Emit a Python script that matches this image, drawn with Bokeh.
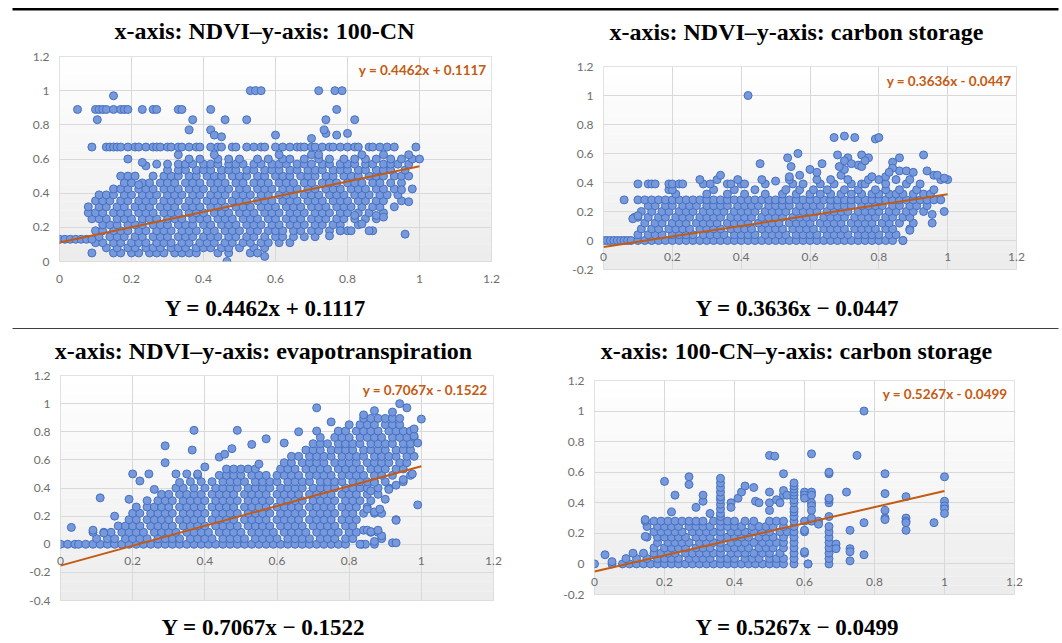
from bokeh.plotting import figure
from bokeh.layouts import column, row
from bokeh.models import Label, FixedTicker, BoxAnnotation, Range1d
from bokeh.embed import file_html
from bokeh.resources import INLINE

# ---------------- texts ----------------
TITLES = [
    "x-axis: NDVI\u2013y-axis: 100-CN",
    "x-axis: NDVI\u2013y-axis: carbon storage",
    "x-axis: NDVI\u2013y-axis: evapotranspiration",
    "x-axis: 100-CN\u2013y-axis: carbon storage",
]
EQUATIONS = [
    "Y = 0.4462x + 0.1117",
    "Y = 0.3636x \u2212 0.0447",
    "Y = 0.7067x \u2212 0.1522",
    "Y = 0.5267x \u2212 0.0499",
]
TREND_LABELS = [
    "y = 0.4462x + 0.1117",
    "y = 0.3636x - 0.0447",
    "y = 0.7067x - 0.1522",
    "y = 0.5267x - 0.0499",
]
SLOPES = [0.4462, 0.3636, 0.7067, 0.5267]
INTERCEPTS = [0.1117, -0.0447, -0.1522, -0.0499]
TREND_X = [0.0, 1.0]

X_TICKS = [0, 0.2, 0.4, 0.6, 0.8, 1, 1.2]
X_TICK_LABELS = ["0", "0.2", "0.4", "0.6", "0.8", "1", "1.2"]
Y_TICKS_A = [0, 0.2, 0.4, 0.6, 0.8, 1, 1.2]
Y_TICK_LABELS_A = ["0", "0.2", "0.4", "0.6", "0.8", "1", "1.2"]
Y_TICKS_B = [-0.2, 0, 0.2, 0.4, 0.6, 0.8, 1, 1.2]
Y_TICK_LABELS_B = ["-0.2", "0", "0.2", "0.4", "0.6", "0.8", "1", "1.2"]
Y_TICKS_C = [-0.4, -0.2, 0, 0.2, 0.4, 0.6, 0.8, 1, 1.2]
Y_TICK_LABELS_C = ["-0.4", "-0.2", "0", "0.2", "0.4", "0.6", "0.8", "1", "1.2"]

# ---------------- panel 1: NDVI vs 100-CN ----------------
P1_ROW_Y = [0.05, 0.08, 0.11, 0.13, 0.145, 0.18, 0.215, 0.25, 0.285, 0.32, 0.355, 0.39,
            0.425, 0.46, 0.5, 0.535, 0.57, 0.6, 0.625, 0.67]
P1_ROW_X = [
    [0.09, 0.15, 0.17, 0.2, 0.22, 0.25, 0.27, 0.29, 0.32, 0.34, 0.36, 0.38, 0.44, 0.47, 0.53],
    [0.13, 0.16, 0.19, 0.21, 0.24, 0.26, 0.28, 0.31, 0.33, 0.35, 0.38, 0.4, 0.42, 0.45, 0.47, 0.5, 0.54, 0.57],
    [0.1, 0.12, 0.15, 0.17, 0.2, 0.22, 0.24, 0.27, 0.29, 0.31, 0.34, 0.36, 0.39, 0.41, 0.43, 0.46, 0.48,
     0.51, 0.53, 0.56, 0.58, 0.61, 0.64],
    [0.0, 0.015, 0.03, 0.045, 0.06, 0.075, 0.09],
    [0.11, 0.14, 0.16, 0.18, 0.21, 0.23, 0.26, 0.28, 0.3, 0.33, 0.35, 0.37, 0.4, 0.42, 0.44, 0.47, 0.49,
     0.52, 0.54, 0.57, 0.6, 0.62, 0.65, 0.68, 0.71],
    [0.1, 0.12, 0.15, 0.17, 0.19, 0.22, 0.24, 0.27, 0.29, 0.31, 0.34, 0.36, 0.38, 0.41, 0.43, 0.46, 0.48,
     0.5, 0.53, 0.55, 0.58, 0.6, 0.62, 0.65, 0.67, 0.7, 0.72, 0.75, 0.78, 0.8, 0.87],
    [0.12, 0.14, 0.16, 0.19, 0.21, 0.23, 0.26, 0.28, 0.3, 0.33, 0.35, 0.37, 0.4, 0.42, 0.45, 0.47, 0.49,
     0.52, 0.54, 0.56, 0.59, 0.61, 0.64, 0.66, 0.68, 0.71, 0.73, 0.76, 0.78, 0.83],
    [0.09, 0.11, 0.13, 0.16, 0.18, 0.2, 0.23, 0.25, 0.27, 0.3, 0.32, 0.34, 0.37, 0.39, 0.41, 0.44, 0.46,
     0.48, 0.51, 0.53, 0.55, 0.58, 0.6, 0.63, 0.65, 0.67, 0.7, 0.72, 0.74, 0.77, 0.79, 0.82, 0.85, 0.88],
    [0.08, 0.1, 0.12, 0.15, 0.17, 0.19, 0.22, 0.24, 0.26, 0.29, 0.31, 0.33, 0.36, 0.38, 0.4, 0.43, 0.45,
     0.47, 0.5, 0.52, 0.54, 0.57, 0.59, 0.61, 0.64, 0.66, 0.68, 0.71, 0.73, 0.75, 0.78, 0.8, 0.83, 0.86, 0.9],
    [0.08, 0.11, 0.13, 0.16, 0.18, 0.21, 0.23, 0.25, 0.28, 0.3, 0.32, 0.35, 0.37, 0.39, 0.42, 0.44, 0.46,
     0.49, 0.51, 0.53, 0.56, 0.58, 0.6, 0.63, 0.65, 0.67, 0.7, 0.72, 0.74, 0.77, 0.79, 0.81, 0.84, 0.87,
     0.89, 0.93],
    [0.1, 0.12, 0.14, 0.17, 0.19, 0.22, 0.24, 0.26, 0.29, 0.31, 0.33, 0.36, 0.38, 0.41, 0.43, 0.45, 0.48,
     0.5, 0.52, 0.55, 0.57, 0.59, 0.62, 0.64, 0.66, 0.69, 0.71, 0.73, 0.76, 0.78, 0.8, 0.83, 0.85, 0.88,
     0.9, 0.95],
    [0.11, 0.13, 0.15, 0.18, 0.2, 0.23, 0.25, 0.27, 0.3, 0.32, 0.34, 0.37, 0.39, 0.42, 0.44, 0.46, 0.49,
     0.51, 0.53, 0.56, 0.58, 0.61, 0.63, 0.65, 0.68, 0.7, 0.72, 0.75, 0.77, 0.79, 0.82, 0.84, 0.86, 0.89,
     0.91, 0.94],
    [0.15, 0.17, 0.19, 0.22, 0.24, 0.26, 0.29, 0.31, 0.33, 0.36, 0.38, 0.4, 0.43, 0.45, 0.47, 0.5, 0.52,
     0.55, 0.57, 0.59, 0.62, 0.64, 0.66, 0.69, 0.71, 0.74, 0.76, 0.78, 0.81, 0.83, 0.85, 0.88, 0.9, 0.93, 0.98],
    [0.18, 0.2, 0.23, 0.25, 0.28, 0.3, 0.32, 0.35, 0.37, 0.39, 0.42, 0.44, 0.46, 0.49, 0.51, 0.54, 0.56,
     0.58, 0.61, 0.63, 0.65, 0.68, 0.7, 0.73, 0.75, 0.77, 0.8, 0.82, 0.84, 0.87, 0.89, 0.92, 0.95],
    [0.17, 0.19, 0.21, 0.26, 0.29, 0.31, 0.33, 0.36, 0.38, 0.41, 0.43, 0.45, 0.48, 0.5, 0.52, 0.55, 0.57,
     0.6, 0.62, 0.64, 0.67, 0.69, 0.71, 0.74, 0.76, 0.79, 0.81, 0.83, 0.86, 0.88, 0.9, 0.93, 0.95, 0.97],
    [0.3, 0.33, 0.35, 0.38, 0.4, 0.42, 0.45, 0.47, 0.49, 0.52, 0.54, 0.57, 0.59, 0.61, 0.64, 0.66, 0.69,
     0.71, 0.73, 0.76, 0.78, 0.8, 0.83, 0.85, 0.88, 0.9, 0.92, 0.96],
    [0.27, 0.3, 0.33, 0.35, 0.37, 0.4, 0.42, 0.44, 0.47, 0.49, 0.51, 0.54, 0.56, 0.59, 0.61, 0.63, 0.66,
     0.68, 0.7, 0.73, 0.75, 0.78, 0.8, 0.82, 0.85, 0.87, 0.9, 0.92, 0.94, 0.97],
    [0.19, 0.36, 0.39, 0.44, 0.47, 0.5, 0.55, 0.58, 0.62, 0.64, 0.68, 0.72, 0.75, 0.79, 0.82, 0.85, 0.88,
     0.92, 0.95, 0.98, 1.0],
    [0.33, 0.43, 0.61, 0.7, 0.72, 0.84, 0.9, 0.97],
    [0.09, 0.13, 0.14, 0.15, 0.16, 0.17, 0.19, 0.21, 0.22, 0.24, 0.26, 0.27, 0.28, 0.3, 0.31, 0.33, 0.34,
     0.36, 0.38, 0.39, 0.42, 0.44, 0.45, 0.48, 0.49, 0.52, 0.54, 0.56, 0.57, 0.6, 0.62, 0.64, 0.66, 0.67,
     0.68, 0.7, 0.71, 0.73, 0.75, 0.76, 0.78, 0.8, 0.82, 0.83, 0.86, 0.87, 0.89, 0.91, 0.93, 0.99],
]
P1_EXTRA = [
    (0.05, 0.89), (0.10, 0.89), (0.11, 0.89), (0.12, 0.89), (0.13, 0.89), (0.15, 0.89), (0.17, 0.89),
    (0.18, 0.89), (0.19, 0.89), (0.23, 0.89), (0.26, 0.89), (0.27, 0.89), (0.33, 0.89), (0.34, 0.89),
    (0.42, 0.89), (0.77, 0.89), (0.15, 0.97), (0.105, 0.83), (0.53, 1.0), (0.545, 1.0), (0.56, 1.0),
    (0.72, 1.0), (0.765, 1.0), (0.785, 1.0), (0.37, 0.83), (0.46, 0.83), (0.52, 0.83), (0.74, 0.83),
    (0.82, 0.83), (0.36, 0.77), (0.42, 0.77), (0.43, 0.74), (0.45, 0.73), (0.74, 0.75), (0.735, 0.77),
    (0.8, 0.75), (0.7, 0.72), (0.6, 0.74), (0.77, 0.74), (0.96, 0.16), (0.465, 0.0), (0.57, 0.03),
    (0.86, 0.18), (0.81, 0.18), (0.84, 0.22), (0.82, 0.27), (0.88, 0.27), (0.9, 0.26), (0.75, 0.15),
    (0.78, 0.18), (0.97, 0.35), (0.95, 0.42), (0.24, 0.56), (0.23, 0.58), (0.22, 0.45), (0.55, 0.05),
]

# ---------------- panel 2: NDVI vs carbon storage ----------------
P2_ROW_Y = [0.0, 0.04, 0.08, 0.12, 0.16, 0.2, 0.24, 0.28, 0.32, 0.35, 0.39, 0.42]
P2_ROW_X = [
    [0.0, 0.01, 0.02, 0.03, 0.04, 0.05, 0.06, 0.07, 0.08, 0.1, 0.12, 0.14, 0.16, 0.18, 0.2, 0.22, 0.24,
     0.26, 0.28, 0.3, 0.32, 0.34, 0.36, 0.38, 0.4, 0.42, 0.44, 0.46, 0.48, 0.5, 0.52, 0.54, 0.56, 0.58,
     0.6, 0.62, 0.64, 0.66, 0.68, 0.7, 0.72, 0.74, 0.76, 0.78, 0.8, 0.82, 0.84, 0.87],
    [0.1, 0.13, 0.15, 0.17, 0.2, 0.22, 0.24, 0.26, 0.29, 0.31, 0.33, 0.35, 0.38, 0.4, 0.42, 0.44, 0.47,
     0.49, 0.51, 0.53, 0.56, 0.58, 0.6, 0.62, 0.65, 0.67, 0.69, 0.71, 0.74, 0.76, 0.78, 0.8, 0.83, 0.85],
    [0.11, 0.14, 0.16, 0.19, 0.21, 0.23, 0.25, 0.28, 0.3, 0.32, 0.34, 0.37, 0.39, 0.41, 0.43, 0.46, 0.48,
     0.5, 0.52, 0.55, 0.57, 0.59, 0.61, 0.64, 0.66, 0.68, 0.7, 0.73, 0.75, 0.77, 0.79, 0.82, 0.84, 0.89],
    [0.12, 0.15, 0.17, 0.2, 0.22, 0.24, 0.27, 0.29, 0.31, 0.33, 0.36, 0.38, 0.4, 0.42, 0.45, 0.47, 0.49,
     0.51, 0.54, 0.56, 0.58, 0.6, 0.63, 0.65, 0.67, 0.69, 0.72, 0.74, 0.76, 0.78, 0.81, 0.83, 0.86, 0.9],
    [0.09, 0.1, 0.13, 0.16, 0.18, 0.21, 0.23, 0.25, 0.28, 0.3, 0.32, 0.34, 0.37, 0.39, 0.41, 0.43, 0.46,
     0.48, 0.5, 0.52, 0.55, 0.57, 0.59, 0.61, 0.64, 0.66, 0.68, 0.7, 0.73, 0.75, 0.77, 0.79, 0.82, 0.84,
     0.87, 0.89],
    [0.11, 0.14, 0.17, 0.19, 0.22, 0.24, 0.26, 0.29, 0.31, 0.33, 0.35, 0.38, 0.4, 0.42, 0.44, 0.47, 0.49,
     0.51, 0.53, 0.56, 0.58, 0.6, 0.62, 0.65, 0.67, 0.69, 0.71, 0.74, 0.76, 0.78, 0.8, 0.83, 0.85, 0.88,
     0.9, 0.93],
    [0.13, 0.15, 0.18, 0.2, 0.23, 0.25, 0.27, 0.3, 0.32, 0.34, 0.36, 0.39, 0.41, 0.43, 0.45, 0.48, 0.5,
     0.52, 0.54, 0.57, 0.59, 0.61, 0.63, 0.66, 0.68, 0.7, 0.72, 0.75, 0.77, 0.79, 0.81, 0.84, 0.86, 0.89,
     0.91, 0.94],
    [0.1, 0.12, 0.14, 0.16, 0.18, 0.2, 0.22, 0.24, 0.26, 0.28, 0.3, 0.32, 0.34, 0.36, 0.38, 0.4, 0.42,
     0.44, 0.46, 0.48, 0.5, 0.52, 0.54, 0.56, 0.58, 0.6, 0.62, 0.64, 0.66, 0.68, 0.7, 0.72, 0.74, 0.76,
     0.78, 0.8, 0.82, 0.84, 0.86, 0.88, 0.9, 0.92, 0.94, 0.96, 0.98],
    [0.21, 0.3, 0.36, 0.41, 0.47, 0.52, 0.56, 0.6, 0.63, 0.66, 0.69, 0.72, 0.75, 0.78, 0.8, 0.83, 0.85,
     0.87, 0.9, 0.93, 0.95],
    [0.19, 0.2, 0.32, 0.38, 0.44, 0.53, 0.57, 0.61, 0.65, 0.7, 0.74, 0.79, 0.82, 0.86, 0.91, 0.96],
    [0.1, 0.13, 0.14, 0.15, 0.19, 0.2, 0.22, 0.23, 0.29, 0.31, 0.36, 0.37, 0.4, 0.41, 0.47, 0.55, 0.58,
     0.63, 0.67, 0.72, 0.75, 0.76, 0.82, 0.88, 0.92],
    [0.28, 0.33, 0.39, 0.46, 0.54, 0.62, 0.66, 0.71, 0.77, 0.8, 0.85, 0.89, 0.98, 1.0],
]
P2_EXTRA = [
    (0.42, 1.0), (0.67, 0.71), (0.70, 0.72), (0.73, 0.71), (0.79, 0.70), (0.80, 0.71), (0.565, 0.6),
    (0.68, 0.59), (0.75, 0.59), (0.93, 0.59), (0.535, 0.57), (0.71, 0.57), (0.77, 0.57), (0.86, 0.57),
    (0.455, 0.53), (0.635, 0.53), (0.545, 0.51), (0.74, 0.52), (0.84, 0.54), (0.6, 0.49), (0.62, 0.47),
    (0.72, 0.53), (0.06, 0.28), (0.955, 0.18), (0.99, 0.2), (0.89, 0.07), (0.87, 0.0), (0.34, 0.45),
    (0.5, 0.41), (0.54, 0.44), (0.57, 0.45), (0.69, 0.45), (0.7, 0.49), (0.86, 0.48), (0.88, 0.48),
    (0.9, 0.47), (0.94, 0.48), (0.96, 0.45), (0.97, 0.45), (0.99, 0.43), (0.78, 0.44), (0.82, 0.44),
    (0.84, 0.5), (0.83, 0.47), (0.685, 0.51), (0.7, 0.55), (0.75, 0.51), (0.76, 0.55), (0.955, 0.12),
    (0.085, 0.15), (0.1, 0.17),
]

# ---------------- panel 3: NDVI vs evapotranspiration ----------------
P3_ROW_Y = [0.0, 0.04, 0.085, 0.13, 0.175, 0.22, 0.265, 0.31, 0.355, 0.4, 0.445, 0.49, 0.535, 0.58,
            0.625, 0.67, 0.715, 0.76, 0.805, 0.85, 0.895]
P3_ROW_X = [
    [0.0, 0.02, 0.04, 0.05, 0.07, 0.09, 0.11, 0.13, 0.15, 0.17, 0.19, 0.21, 0.23, 0.25, 0.27, 0.29, 0.31,
     0.33, 0.35, 0.37, 0.39, 0.41, 0.43, 0.45, 0.47, 0.49, 0.51, 0.53, 0.55, 0.57, 0.59, 0.61, 0.63, 0.65,
     0.67, 0.69, 0.71, 0.73, 0.75, 0.77, 0.79, 0.835, 0.845, 0.87],
    [0.1, 0.13, 0.15, 0.18, 0.2, 0.22, 0.24, 0.27, 0.29, 0.31, 0.33, 0.36, 0.38, 0.4, 0.42, 0.45, 0.47,
     0.49, 0.51, 0.54, 0.56, 0.58, 0.6, 0.63, 0.65, 0.67, 0.69, 0.72, 0.74, 0.76, 0.79, 0.81, 0.89],
    [0.09, 0.12, 0.14, 0.17, 0.19, 0.21, 0.23, 0.26, 0.28, 0.3, 0.32, 0.35, 0.37, 0.39, 0.41, 0.44, 0.46,
     0.48, 0.5, 0.53, 0.55, 0.57, 0.59, 0.62, 0.64, 0.66, 0.68, 0.71, 0.73, 0.75, 0.77, 0.8, 0.82, 0.86, 0.88],
    [0.16, 0.18, 0.2, 0.22, 0.25, 0.27, 0.29, 0.31, 0.34, 0.36, 0.38, 0.4, 0.43, 0.45, 0.47, 0.49, 0.52,
     0.54, 0.56, 0.58, 0.61, 0.63, 0.65, 0.67, 0.7, 0.72, 0.74, 0.76, 0.79, 0.81],
    [0.19, 0.21, 0.24, 0.26, 0.28, 0.3, 0.33, 0.35, 0.37, 0.39, 0.42, 0.44, 0.46, 0.48, 0.51, 0.53, 0.55,
     0.57, 0.6, 0.62, 0.64, 0.66, 0.69, 0.71, 0.73, 0.75, 0.78, 0.8, 0.82, 0.93],
    [0.2, 0.22, 0.25, 0.27, 0.29, 0.31, 0.34, 0.36, 0.38, 0.4, 0.43, 0.45, 0.47, 0.49, 0.52, 0.54, 0.56,
     0.58, 0.61, 0.63, 0.65, 0.67, 0.7, 0.72, 0.74, 0.76, 0.79, 0.81, 0.84, 0.87, 0.89],
    [0.21, 0.24, 0.26, 0.28, 0.3, 0.33, 0.35, 0.37, 0.39, 0.42, 0.44, 0.46, 0.48, 0.51, 0.53, 0.55, 0.57,
     0.6, 0.62, 0.64, 0.66, 0.69, 0.71, 0.73, 0.75, 0.78, 0.8, 0.82, 0.85],
    [0.24, 0.27, 0.29, 0.31, 0.34, 0.36, 0.38, 0.4, 0.43, 0.45, 0.47, 0.49, 0.52, 0.54, 0.56, 0.58, 0.61,
     0.63, 0.65, 0.67, 0.7, 0.72, 0.74, 0.76, 0.79, 0.81, 0.83, 0.86],
    [0.28, 0.3, 0.33, 0.35, 0.37, 0.39, 0.42, 0.44, 0.46, 0.48, 0.51, 0.53, 0.55, 0.57, 0.6, 0.62, 0.64,
     0.66, 0.69, 0.71, 0.73, 0.75, 0.78, 0.8, 0.82, 0.85, 0.88],
    [0.32, 0.34, 0.37, 0.4, 0.43, 0.45, 0.47, 0.49, 0.52, 0.54, 0.56, 0.58, 0.61, 0.63, 0.65, 0.67, 0.7,
     0.72, 0.74, 0.76, 0.79, 0.81, 0.83, 0.85, 0.88, 0.91],
    [0.36, 0.39, 0.42, 0.45, 0.47, 0.49, 0.51, 0.54, 0.56, 0.58, 0.6, 0.63, 0.65, 0.67, 0.69, 0.72, 0.74,
     0.76, 0.78, 0.81, 0.83, 0.85, 0.87, 0.9, 0.95],
    [0.38, 0.44, 0.46, 0.48, 0.5, 0.53, 0.55, 0.57, 0.6, 0.62, 0.64, 0.66, 0.69, 0.71, 0.73, 0.75, 0.78,
     0.8, 0.82, 0.84, 0.87, 0.89, 0.92, 0.97],
    [0.46, 0.48, 0.5, 0.52, 0.54, 0.61, 0.63, 0.65, 0.68, 0.7, 0.72, 0.74, 0.77, 0.79, 0.81, 0.83, 0.86,
     0.88, 0.9, 0.93, 0.95],
    [0.62, 0.64, 0.67, 0.69, 0.71, 0.73, 0.76, 0.78, 0.8, 0.82, 0.85, 0.87, 0.89, 0.91, 0.94, 0.96],
    [0.64, 0.66, 0.69, 0.71, 0.73, 0.75, 0.78, 0.8, 0.82, 0.84, 0.87, 0.89, 0.91, 0.93, 0.96, 0.98],
    [0.68, 0.7, 0.72, 0.75, 0.77, 0.79, 0.81, 0.84, 0.86, 0.88, 0.9, 0.93, 0.95, 0.97],
    [0.7, 0.72, 0.74, 0.77, 0.79, 0.81, 0.83, 0.86, 0.88, 0.9, 0.92, 0.95, 0.97],
    [0.72, 0.76, 0.78, 0.8, 0.83, 0.85, 0.87, 0.89, 0.92, 0.94, 0.96, 0.98],
    [0.71, 0.77, 0.79, 0.82, 0.84, 0.86, 0.88, 0.91, 0.93, 0.95, 0.97],
    [0.8, 0.83, 0.85, 0.87, 0.9, 0.92, 0.94],
    [0.84, 0.86, 0.88, 0.9, 0.92, 0.94],
]
P3_EXTRA = [
    (0.03, 0.12), (0.11, 0.33), (0.09, 0.1), (0.19, 0.32), (0.2, 0.5), (0.245, 0.5), (0.22, 0.45),
    (0.29, 0.7), (0.29, 0.58), (0.37, 0.81), (0.365, 0.67), (0.49, 0.81), (0.53, 0.71), (0.57, 0.75),
    (0.475, 0.68), (0.44, 0.62), (0.455, 0.64), (0.66, 0.8), (0.62, 0.72), (0.71, 0.97), (0.94, 1.0),
    (0.96, 0.97), (1.0, 0.89), (0.75, 0.87), (0.99, 0.72), (0.98, 0.77), (0.98, 0.82), (0.975, 0.5),
    (0.95, 0.46), (0.32, 0.5), (0.35, 0.5), (0.33, 0.44), (0.26, 0.39), (0.38, 0.5), (0.4, 0.55),
    (0.55, 0.57), (0.99, 0.28), (0.91, 0.39), (0.93, 0.17), (0.85, 0.25), (0.87, 0.23), (0.885, 0.25),
    (0.89, 0.06), (0.87, 0.02), (0.83, 0.0), (0.92, 0.01), (0.93, 0.01), (0.84, 0.1), (0.85, 0.1),
    (0.86, 0.09), (0.88, 0.1), (0.87, 0.44), (0.86, 0.38), (0.93, 0.42), (0.9, 0.32), (0.15, 0.2),
    (0.12, 0.08), (0.84, 0.92), (0.87, 0.95), (0.92, 0.94),
]

# ---------------- panel 4: 100-CN vs carbon storage ----------------
P4_ROW_Y = [0.0, 0.035, 0.07, 0.105, 0.14, 0.175, 0.21, 0.245, 0.28]
P4_ROW_X = [
    [0.0, 0.05, 0.08, 0.1, 0.12, 0.14, 0.16, 0.18, 0.2, 0.22, 0.24, 0.26, 0.28, 0.3, 0.32, 0.34, 0.36,
     0.38, 0.4, 0.42, 0.44, 0.46, 0.48, 0.5, 0.52, 0.54, 0.57, 0.61, 0.67],
    [0.09, 0.12, 0.15, 0.18, 0.2, 0.22, 0.24, 0.27, 0.29, 0.31, 0.33, 0.36, 0.38, 0.4, 0.43, 0.45, 0.47,
     0.5, 0.52, 0.54, 0.57, 0.67],
    [0.11, 0.14, 0.17, 0.19, 0.21, 0.23, 0.26, 0.28, 0.3, 0.32, 0.34, 0.36, 0.39, 0.41, 0.43, 0.455, 0.48,
     0.5, 0.53, 0.57, 0.6, 0.67],
    [0.17, 0.2, 0.22, 0.24, 0.26, 0.29, 0.31, 0.33, 0.36, 0.38, 0.4, 0.42, 0.44, 0.47, 0.49, 0.51, 0.54,
     0.57, 0.67, 0.69],
    [0.18, 0.21, 0.23, 0.25, 0.27, 0.3, 0.32, 0.34, 0.36, 0.39, 0.41, 0.43, 0.455, 0.48, 0.5, 0.52, 0.54,
     0.57, 0.67],
    [0.15, 0.18, 0.2, 0.22, 0.24, 0.26, 0.29, 0.31, 0.33, 0.36, 0.38, 0.4, 0.42, 0.44, 0.47, 0.49, 0.51,
     0.54, 0.57, 0.67],
    [0.17, 0.19, 0.21, 0.23, 0.25, 0.28, 0.3, 0.32, 0.34, 0.36, 0.39, 0.41, 0.43, 0.455, 0.48, 0.5, 0.53,
     0.55, 0.57, 0.6, 0.67],
    [0.15, 0.18, 0.2, 0.22, 0.24, 0.27, 0.29, 0.31, 0.33, 0.36, 0.38, 0.4, 0.42, 0.45, 0.47, 0.49, 0.51,
     0.54, 0.57, 0.67],
    [0.145, 0.17, 0.19, 0.21, 0.23, 0.25, 0.27, 0.29, 0.31, 0.34, 0.36, 0.38, 0.4, 0.43, 0.455, 0.5, 0.52,
     0.54, 0.57, 0.6, 0.62, 0.64],
]
P4_EXTRA = [
    (0.03, 0.06), (0.05, 0.015), (0.2, 0.54), (0.27, 0.57), (0.27, 0.52), (0.23, 0.45), (0.22, 0.34),
    (0.29, 0.37), (0.31, 0.41), (0.31, 0.45), (0.33, 0.33), (0.39, 0.4), (0.39, 0.37), (0.41, 0.43),
    (0.42, 0.47), (0.43, 0.51), (0.455, 0.5), (0.46, 0.41), (0.47, 0.4), (0.5, 0.47), (0.5, 0.4),
    (0.5, 0.35), (0.52, 0.42), (0.53, 0.4), (0.54, 0.45), (0.54, 0.48), (0.55, 0.45), (0.54, 0.59),
    (0.6, 0.47), (0.6, 0.45), (0.6, 0.43), (0.62, 0.47), (0.62, 0.45), (0.62, 0.4), (0.62, 0.38),
    (0.62, 0.35), (0.62, 0.72), (0.5, 0.71), (0.515, 0.705), (0.72, 0.47), (0.75, 0.71), (0.77, 1.0),
    (0.73, 0.22), (0.73, 0.1), (0.73, 0.08), (0.73, 0.02), (0.77, 0.06), (0.77, 0.27), (0.83, 0.59),
    (0.83, 0.46), (0.83, 0.35), (0.83, 0.3), (0.83, 0.29), (0.89, 0.44), (0.89, 0.3), (0.89, 0.28),
    (0.89, 0.27), (0.89, 0.22), (0.97, 0.27), (1.0, 0.57), (1.0, 0.41), (1.0, 0.38), (1.0, 0.36),
    (1.0, 0.33), (0.69, 0.13), (0.69, 0.1), (0.64, 0.26), (0.6, 0.22), (0.6, 0.08), (0.61, 0.0),
    (0.67, 0.59), (0.67, 0.6), (0.67, 0.4), (0.67, 0.42), (0.67, 0.43), (0.67, 0.31), (0.36, 0.31),
    (0.36, 0.33), (0.36, 0.36), (0.36, 0.39), (0.36, 0.42), (0.36, 0.44), (0.36, 0.47), (0.36, 0.5),
    (0.36, 0.53), (0.36, 0.56), (0.57, 0.31), (0.57, 0.34), (0.57, 0.36), (0.57, 0.4), (0.57, 0.42),
    (0.57, 0.45), (0.57, 0.47), (0.57, 0.49), (0.57, 0.51), (0.57, 0.53), (0.62, 0.3), (0.145, 0.18),
    (0.145, 0.29),
]

# ---------------- styling ----------------
PT_FILL = "#7799dc"
PT_LINE = "#4470c2"
TREND_COLOR = "#c55a11"
GRID_COLOR = "#d9d9d9"
TICK_COLOR = "#6e6e6e"
SERIF = "Liberation Serif"
SANS = "Lato"
PAGE_W = 1060


def flatten(row_y, row_x, extra):
    xs, ys = [], []
    for yv, xr in zip(row_y, row_x):
        xs.extend(xr)
        ys.extend([yv] * len(xr))
    for xv, yv in extra:
        xs.append(xv)
        ys.append(yv)
    return xs, ys


def panel(idx, xs, ys, yticks, ylabels, width, height, borders, xlabel_standoff, trend_off):
    ymin, ymax = yticks[0], yticks[-1]
    left, right, top, bottom = borders
    p = figure(width=width, height=height, toolbar_location=None, output_backend="svg",
               title=None, frame_align=False,
               x_range=Range1d(X_TICKS[0], X_TICKS[-1]), y_range=Range1d(ymin, ymax),
               min_border_left=left, min_border_right=right, min_border_top=top,
               min_border_bottom=bottom, background_fill_color="white",
               border_fill_color="white", outline_line_color=GRID_COLOR)
    # light vertical gradient of the plot area (white at top, pale grey at bottom)
    n = 24
    for i in range(n):
        b = ymin + (ymax - ymin) * i / n
        t = ymin + (ymax - ymin) * (i + 1) / n
        g = int(round(236 + (255 - 236) * (i + 0.5) / n))
        p.add_layout(BoxAnnotation(bottom=b, top=t, fill_color="#%02x%02x%02x" % (g, g, g),
                                   fill_alpha=1.0, line_color=None, level="image"))
    p.xaxis.ticker = FixedTicker(ticks=X_TICKS)
    p.yaxis.ticker = FixedTicker(ticks=yticks)
    p.xgrid.ticker = FixedTicker(ticks=X_TICKS)
    p.ygrid.ticker = FixedTicker(ticks=yticks)
    p.xaxis.major_label_overrides = dict(zip(X_TICKS, X_TICK_LABELS))
    p.yaxis.major_label_overrides = dict(zip(yticks, ylabels))
    for ax in (p.xaxis, p.yaxis):
        ax.axis_line_color = None
        ax.major_tick_line_color = None
        ax.major_tick_out = 0
        ax.major_tick_in = 0
        ax.minor_tick_line_color = None
        ax.major_label_text_color = TICK_COLOR
        ax.major_label_text_font = SANS
        ax.major_label_text_font_size = "12px"
    p.yaxis.major_label_standoff = 10
    p.xaxis.major_label_standoff = xlabel_standoff
    p.grid.grid_line_color = GRID_COLOR
    p.grid.grid_line_width = 1

    p.scatter(xs, ys, size=8, fill_color=PT_FILL, line_color=PT_LINE, line_width=1)
    ty = [INTERCEPTS[idx] + SLOPES[idx] * xv for xv in TREND_X]
    p.line(TREND_X, ty, line_color=TREND_COLOR, line_width=2)

    p.add_layout(Label(x=X_TICKS[-1], y=ymax, x_offset=trend_off[0], y_offset=trend_off[1],
                       text=TREND_LABELS[idx], text_align="right", text_baseline="middle",
                       text_font=SANS, text_font_style="bold", text_font_size="13.5px",
                       text_color=TREND_COLOR))
    return p


def strip(height, texts, size, rule=None):
    """A text band spanning the page; coordinates are pixels from its bottom-left."""
    s = figure(width=PAGE_W, height=height, toolbar_location=None, output_backend="svg",
               title=None, frame_align=False, x_axis_location=None, y_axis_location=None,
               x_range=Range1d(0, PAGE_W), y_range=Range1d(0, height),
               min_border=0, background_fill_color="white", border_fill_color="white",
               outline_line_color=None)
    s.grid.visible = False
    if rule is not None:
        s.add_layout(BoxAnnotation(left=12, right=1058, bottom=rule[0], top=rule[1],
                                   fill_color="black", fill_alpha=1.0, line_color=None))
    for tx, ty, txt in texts:
        s.add_layout(Label(x=tx, y=ty, text=txt, text_align="center", text_baseline="middle",
                           text_font=SERIF, text_font_style="bold", text_font_size=size,
                           text_color="black"))
    return s


x1, y1 = flatten(P1_ROW_Y, P1_ROW_X, P1_EXTRA)
x2, y2 = flatten(P2_ROW_Y, P2_ROW_X, P2_EXTRA)
x3, y3 = flatten(P3_ROW_Y, P3_ROW_X, P3_EXTRA)
x4, y4 = flatten(P4_ROW_Y, P4_ROW_X, P4_EXTRA)

head1 = strip(46, [(264, 16, TITLES[0]), (796, 15, TITLES[1])], "24px", rule=(36, 38.5))
p1 = panel(0, x1, y1, Y_TICKS_A, Y_TICK_LABELS_A, 531, 242, (59, 40, 10, 27), 13, (-5, -13))
p2 = panel(1, x2, y2, Y_TICKS_B, Y_TICK_LABELS_B, 529, 242, (72, 44, 20, 19), -17, (-5, -14))
foot1 = strip(41, [(265, 21, EQUATIONS[0]), (797, 21, EQUATIONS[1])], "23px", rule=(0, 1.2))
head2 = strip(40, [(263, 19, TITLES[2]), (796, 19, TITLES[3])], "24px")
p3 = panel(2, x3, y3, Y_TICKS_C, Y_TICK_LABELS_C, 531, 240, (60, 38, 6, 9), -44, (-6, -14))
p4 = panel(3, x4, y4, Y_TICKS_B, Y_TICK_LABELS_B, 529, 240, (63, 46, 11, 15), -17, (-7, -13))
foot2 = strip(33, [(263, 15, EQUATIONS[2]), (797, 15, EQUATIONS[3])], "23px")

layout = column(head1, row(p1, p2), foot1, head2, row(p3, p4), foot2)

with open("out.html", "w") as f:
    f.write(file_html(layout, INLINE))
